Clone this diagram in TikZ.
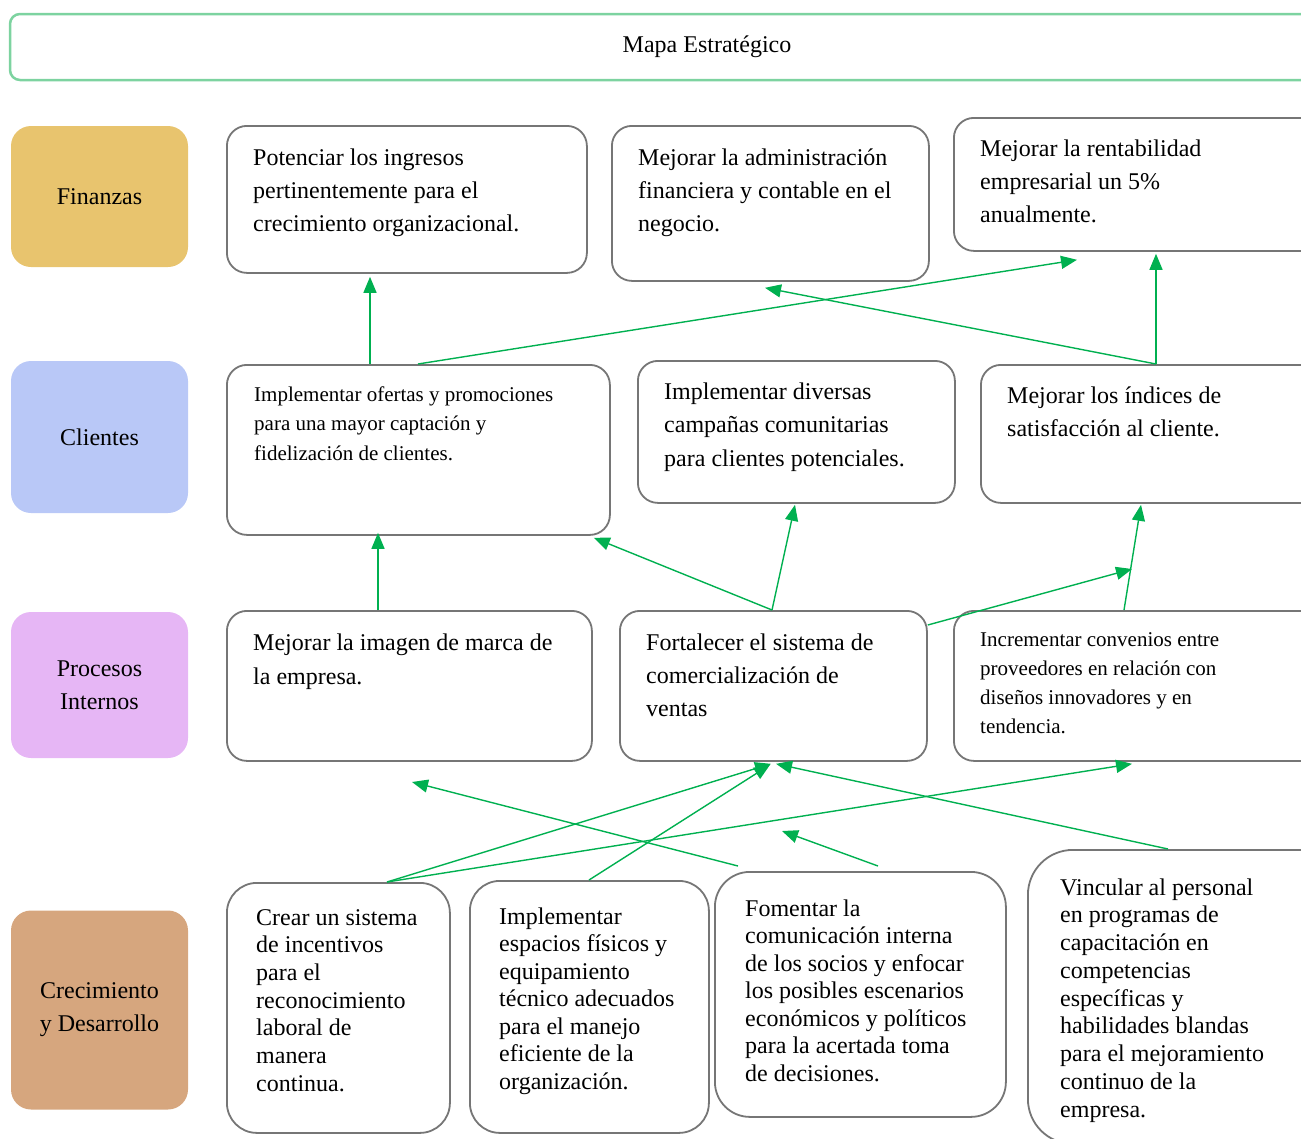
\documentclass[tikz,border=0pt]{standalone}
\usepackage{fontspec}
\setmainfont{Liberation Serif}
\usetikzlibrary{arrows.meta,calc}

\definecolor{edgegray}{HTML}{767676}
\definecolor{titlegreen}{HTML}{7DD3A0}
\definecolor{arrowgreen}{HTML}{00B050}
\definecolor{finC}{HTML}{E8C46E}
\definecolor{cliC}{HTML}{B9C8F7}
\definecolor{proC}{HTML}{E6B6F5}
\definecolor{creC}{HTML}{D6A67E}

% a block of text whose first baseline is the node's base
\newcommand\txtlines[3]{\parbox[t]{400pt}{\fontsize{#1}{#2}\selectfont #3}}

\begin{document}
\begin{tikzpicture}[x=1pt,y=-1pt,
  objbox/.style={draw=edgegray, line width=1.8pt, rounded corners=20pt,
    rectangle, anchor=north west, inner sep=0pt, fill=white},
  lab/.style={rectangle, rounded corners=20pt, minimum width=177pt,
    inner sep=0pt, align=center, font=\fontsize{24}{33}\selectfont},
  txt/.style={anchor=base west, inner sep=0pt},
  link/.style={draw=arrowgreen, line width=1.4pt,
    -{Triangle[length=16pt,width=13pt]}}]

\useasboundingbox (0,0) rectangle (1301,1138);
\clip (0,0) rectangle (1301,1138);

% title bar
\node[draw=titlegreen, line width=2.5pt, rounded corners=10pt,
  minimum width=1394pt, minimum height=66pt, inner sep=0pt,
  font=\fontsize{24}{33}\selectfont] (title) at (707,47) {Mapa Estratégico};

% perspective labels
\node[lab, fill=finC, minimum height=141pt] (fin) at (99.5,196.5) {Finanzas};
\node[lab, fill=cliC, minimum height=152pt] (cli) at (99.5,437) {Clientes};
\node[lab, fill=proC, minimum height=146pt] (pro) at (99.5,685) {Procesos\\Internos};
\node[lab, fill=creC, minimum height=199pt] (cre) at (99.5,1010) {Crecimiento\\y Desarrollo};

% objective boxes
\node[objbox, minimum width=360pt, minimum height=147pt] (a1) at (226,125) {};
\node[objbox, minimum width=317pt, minimum height=155pt] (a2) at (611,125) {};
\node[objbox, minimum width=400pt, minimum height=133pt] (a3) at (953,117) {};
\node[objbox, minimum width=383pt, minimum height=170pt] (b1) at (226,364) {};
\node[objbox, minimum width=317pt, minimum height=142pt] (b2) at (637,360) {};
\node[objbox, minimum width=400pt, minimum height=138pt] (b3) at (980,364) {};
\node[objbox, minimum width=365pt, minimum height=150pt] (c1) at (226,610) {};
\node[objbox, minimum width=307pt, minimum height=150pt] (c2) at (619,610) {};
\node[objbox, minimum width=400pt, minimum height=150pt] (c3) at (953,610) {};
\node[objbox, rounded corners=30pt, minimum width=223pt, minimum height=250pt] (d1) at (226,882) {};
\node[objbox, rounded corners=30pt, minimum width=239pt, minimum height=252pt] (d2) at (469,880) {};
\node[objbox, rounded corners=35pt, minimum width=291pt, minimum height=245pt] (d3) at (714,871) {};
\node[objbox, rounded corners=45pt, minimum width=330pt, minimum height=294pt] (d4) at (1027,849) {};

% objective texts
\node[txt] (a1t) at (253,165) {\txtlines{24}{33}{Potenciar los ingresos\\pertinentemente para el\\crecimiento organizacional.}};
\node[txt] (a2t) at (638,165) {\txtlines{24}{33}{Mejorar la administración\\financiera y contable en el\\negocio.}};
\node[txt] (a3t) at (980,156) {\txtlines{24}{33}{Mejorar la rentabilidad\\empresarial un 5\%\\anualmente.}};
\node[txt] (b1t) at (254,401) {\txtlines{21}{29.5}{Implementar ofertas y promociones\\para una mayor captación y\\fidelización de clientes.}};
\node[txt] (b2t) at (664,399) {\txtlines{24}{33.5}{Implementar diversas\\campañas comunitarias\\para clientes potenciales.}};
\node[txt] (b3t) at (1007,403) {\txtlines{24}{33}{Mejorar los índices de\\satisfacción al cliente.}};
\node[txt] (c1t) at (253,650) {\txtlines{24}{34}{Mejorar la imagen de marca de\\la empresa.}};
\node[txt] (c2t) at (646,650) {\txtlines{24}{33}{Fortalecer el sistema de\\comercialización de\\ventas}};
\node[txt] (c3t) at (980,646) {\txtlines{21}{29.3}{Incrementar convenios entre\\proveedores en relación con\\diseños innovadores y en\\tendencia.}};
\node[txt] (d1t) at (256,925) {\txtlines{24}{27.7}{Crear un sistema\\de incentivos\\para el\\reconocimiento\\laboral de\\manera\\continua.}};
\node[txt] (d2t) at (499,924) {\txtlines{24}{27.5}{Implementar\\espacios físicos y\\equipamiento\\técnico adecuados\\para el manejo\\eficiente de la\\organización.}};
\node[txt] (d3t) at (745,916) {\txtlines{24}{27.5}{Fomentar la\\comunicación interna\\de los socios y enfocar\\los posibles escenarios\\económicos y políticos\\para la acertada toma\\de decisiones.}};
\node[txt] (d4t) at (1060,895) {\txtlines{24}{27.75}{Vincular al personal\\en programas de\\capacitación en\\competencias\\específicas y\\habilidades blandas\\para el mejoramiento\\continuo de la\\empresa.}};

% free arrow ends
\coordinate (p1) at (1132,569);
\coordinate (q1) at (738,866);
\coordinate (q2) at (412,782);
\coordinate (q3) at (878,866);
\coordinate (q4) at (782,831);

% clientes -> finanzas
\draw[link] ($(b1.north west)+(144,0)$) -- ($(a1.south west)+(144,3)$);
\draw[link] ($(b1.north west)+(192,0)$) -- ($(a3.south west)+(124,8)$);
\draw[link] ($(b3.north west)+(176,0)$) -- ($(a2.south west)+(154,6)$);
\draw[link] ($(b3.north west)+(176,0)$) -- ($(a3.south west)+(203,2)$);

% procesos -> clientes
\draw[link] ($(c1.north west)+(152,0)$) -- ($(b1.south west)+(152,-3)$);
\draw[link] ($(c2.north west)+(153,0)$) -- ($(b1.south east)+(-17,2)$);
\draw[link] ($(c2.north west)+(153,0)$) -- ($(b2.south west)+(158,1)$);
\draw[link] ($(c3.north west)+(171,0)$) -- ($(b3.south west)+(161,1)$);
\draw[link] ($(c2.north east)+(0,15)$) -- (p1);

% crecimiento -> procesos
\draw[link] ($(d1.north west)+(161,0)$) -- ($(c2.south west)+(152,2)$);
\draw[link] ($(d1.north west)+(161,0)$) -- ($(c3.south west)+(179,2)$);
\draw[link] ($(d2.north west)+(120,0)$) -- ($(c2.south west)+(151,3)$);
\draw[link] (q1) -- (q2);
\draw[link] (q3) -- (q4);
\draw[link] ($(d4.north west)+(141,0)$) -- ($(c2.south west)+(157,2)$);

\end{tikzpicture}
\end{document}
